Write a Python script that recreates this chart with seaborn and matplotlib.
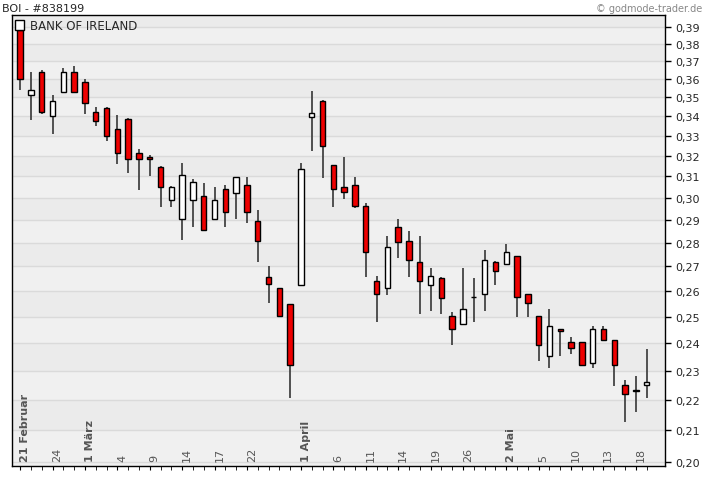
import matplotlib
matplotlib.use("Agg")
import matplotlib.pyplot as plt
import matplotlib.patches as mpatches
import seaborn as sns
import numpy as np
from matplotlib.ticker import FixedLocator, NullLocator

# daily OHLC
opens = [0.388, 0.351, 0.364, 0.340, 0.353, 0.364, 0.358, 0.342, 0.344, 0.3335,
         0.3385, 0.3215, 0.3195, 0.3145, 0.299, 0.2905, 0.299, 0.301, 0.2905, 0.304,
         0.302, 0.306, 0.2895, 0.2658, 0.261, 0.2548, 0.2625, 0.3395, 0.348, 0.3155,
         0.305, 0.306, 0.296, 0.264, 0.261, 0.287, 0.2809, 0.272, 0.2625, 0.2652,
         0.2504, 0.2473, 0.2575, 0.259, 0.272, 0.2708, 0.2742, 0.2588, 0.2504, 0.2353,
         0.2454, 0.2404, 0.2404, 0.2329, 0.2454, 0.2411, 0.2252, 0.2231, 0.2252]
highs = [0.390, 0.364, 0.365, 0.351, 0.366, 0.367, 0.360, 0.345, 0.345, 0.3405,
         0.339, 0.3235, 0.3205, 0.315, 0.3055, 0.3165, 0.3085, 0.3066, 0.305, 0.306,
         0.3095, 0.3095, 0.2943, 0.270, 0.2612, 0.2548, 0.3165, 0.3535, 0.3485, 0.3155,
         0.3195, 0.3095, 0.2975, 0.266, 0.283, 0.2905, 0.285, 0.283, 0.2692, 0.2655,
         0.2516, 0.2692, 0.2652, 0.277, 0.2722, 0.2795, 0.2742, 0.2588, 0.2504, 0.2528,
         0.2454, 0.2422, 0.2404, 0.2465, 0.2465, 0.2411, 0.227, 0.2281, 0.2379]
lows = [0.354, 0.338, 0.341, 0.331, 0.352, 0.352, 0.341, 0.335, 0.327, 0.316,
        0.3115, 0.3035, 0.310, 0.2957, 0.2957, 0.281, 0.287, 0.285, 0.2905, 0.287,
        0.2905, 0.2887, 0.272, 0.2552, 0.2502, 0.2208, 0.2625, 0.3225, 0.309, 0.2957,
        0.2995, 0.2955, 0.2655, 0.248, 0.2585, 0.2735, 0.2655, 0.251, 0.2522, 0.251,
        0.2393, 0.2473, 0.248, 0.2522, 0.2624, 0.2708, 0.250, 0.250, 0.2337, 0.2311,
        0.2353, 0.2359, 0.2322, 0.2311, 0.2411, 0.2248, 0.2128, 0.2158, 0.2208]
closes = [0.360, 0.354, 0.342, 0.348, 0.364, 0.353, 0.347, 0.3375, 0.330, 0.3215,
          0.3185, 0.3185, 0.3185, 0.305, 0.305, 0.3105, 0.3075, 0.2853, 0.299, 0.2935,
          0.3095, 0.2935, 0.2808, 0.263, 0.2504, 0.2322, 0.3135, 0.3415, 0.3245, 0.304,
          0.3025, 0.296, 0.2762, 0.259, 0.278, 0.2804, 0.2728, 0.264, 0.266, 0.2572,
          0.2454, 0.2528, 0.2575, 0.2728, 0.268, 0.2762, 0.2575, 0.2552, 0.2393, 0.2465,
          0.2447, 0.2381, 0.2322, 0.2454, 0.2411, 0.2322, 0.2221, 0.2231, 0.2262]

tick_pos = [0, 3, 6, 9, 12, 15, 18, 21, 26, 29, 32, 35, 38, 41, 45, 48, 51, 54, 57]
tick_labels = ["21 Februar", "24", "1 März", "4", "9", "14", "17", "22", "1 April",
               "6", "11", "14", "19", "26", "2 Mai", "5", "10", "13", "18"]
price_ticks = [round(0.20 + 0.01 * i, 2) for i in range(20)]

sns.set_style("white")
plt.rcParams["font.family"] = ["DejaVu Sans"]

fig = plt.figure(figsize=(7.2, 4.81), dpi=100)
ax = fig.add_axes([12 / 720, 14 / 481, 653 / 720, 451 / 481])
ax.set_yscale("log")
ax.set_ylim(0.1988, 0.397)
ax.set_xlim(-0.75, 59.7)
ax.set_facecolor("#f0f0f0")

# alternating bands and grid
for i in range(len(price_ticks)):
    lo = price_ticks[i]
    hi = price_ticks[i + 1] if i + 1 < len(price_ticks) else 0.397
    if i % 2 == 1:
        ax.axhspan(lo, hi, color="#ebebeb", lw=0, zorder=0)
    ax.axhline(lo, color="#dadada", lw=1, zorder=1)

x = np.arange(len(opens))
o = np.array(opens); c = np.array(closes)
ax.vlines(x, lows, highs, color="#444444", lw=1.3, zorder=2)
down = o > c
bottoms = np.minimum(o, c)
heights = np.maximum(np.abs(o - c), 0.0002)
colors = np.where(down, "#ee0000", "white")
ax.bar(x, heights, bottom=bottoms, width=0.5, color=colors, edgecolor="black",
       linewidth=1, zorder=3)

ax.yaxis.tick_right()
ax.yaxis.set_major_locator(FixedLocator(price_ticks))
ax.yaxis.set_minor_locator(NullLocator())
ax.set_yticklabels([f"{t:.2f}".replace(".", ",") for t in price_ticks], fontsize=8)
ax.tick_params(axis="y", which="major", right=True, length=4, width=1, color="black")

ax.set_xticks(x, minor=True)
ax.set_xticks(tick_pos)
ax.set_xticklabels([])
ax.tick_params(axis="x", which="both", bottom=True, length=3, color="black")
for p, lab in zip(tick_pos, tick_labels):
    bold = not lab.isdigit()
    ax.text(p + 0.45, 0.2004, lab, rotation=90, ha="center", va="bottom", fontsize=8,
            color="#555555", fontweight="bold" if bold else "normal", zorder=4)

for s in ax.spines.values():
    s.set_color("black")
    s.set_linewidth(1)

# legend square
fig.patches.append(mpatches.Rectangle((15 / 720, 1 - 31 / 481), 9 / 720, 10 / 481,
                                      transform=fig.transFigure, facecolor="white",
                                      edgecolor="black", lw=1, zorder=6))
fig.text(30 / 720, 1 - 26 / 481, "BANK OF IRELAND", fontsize=8.5, va="center",
         ha="left", zorder=6)
fig.text(2 / 720, 1 - 9 / 481, "BOI - #838199", fontsize=8, va="center", ha="left")
fig.text(702 / 720, 1 - 9 / 481, "\u00a9 godmode-trader.de", fontsize=7,
         color="#888888", va="center", ha="right")

fig.savefig("out.png", dpi=100)
